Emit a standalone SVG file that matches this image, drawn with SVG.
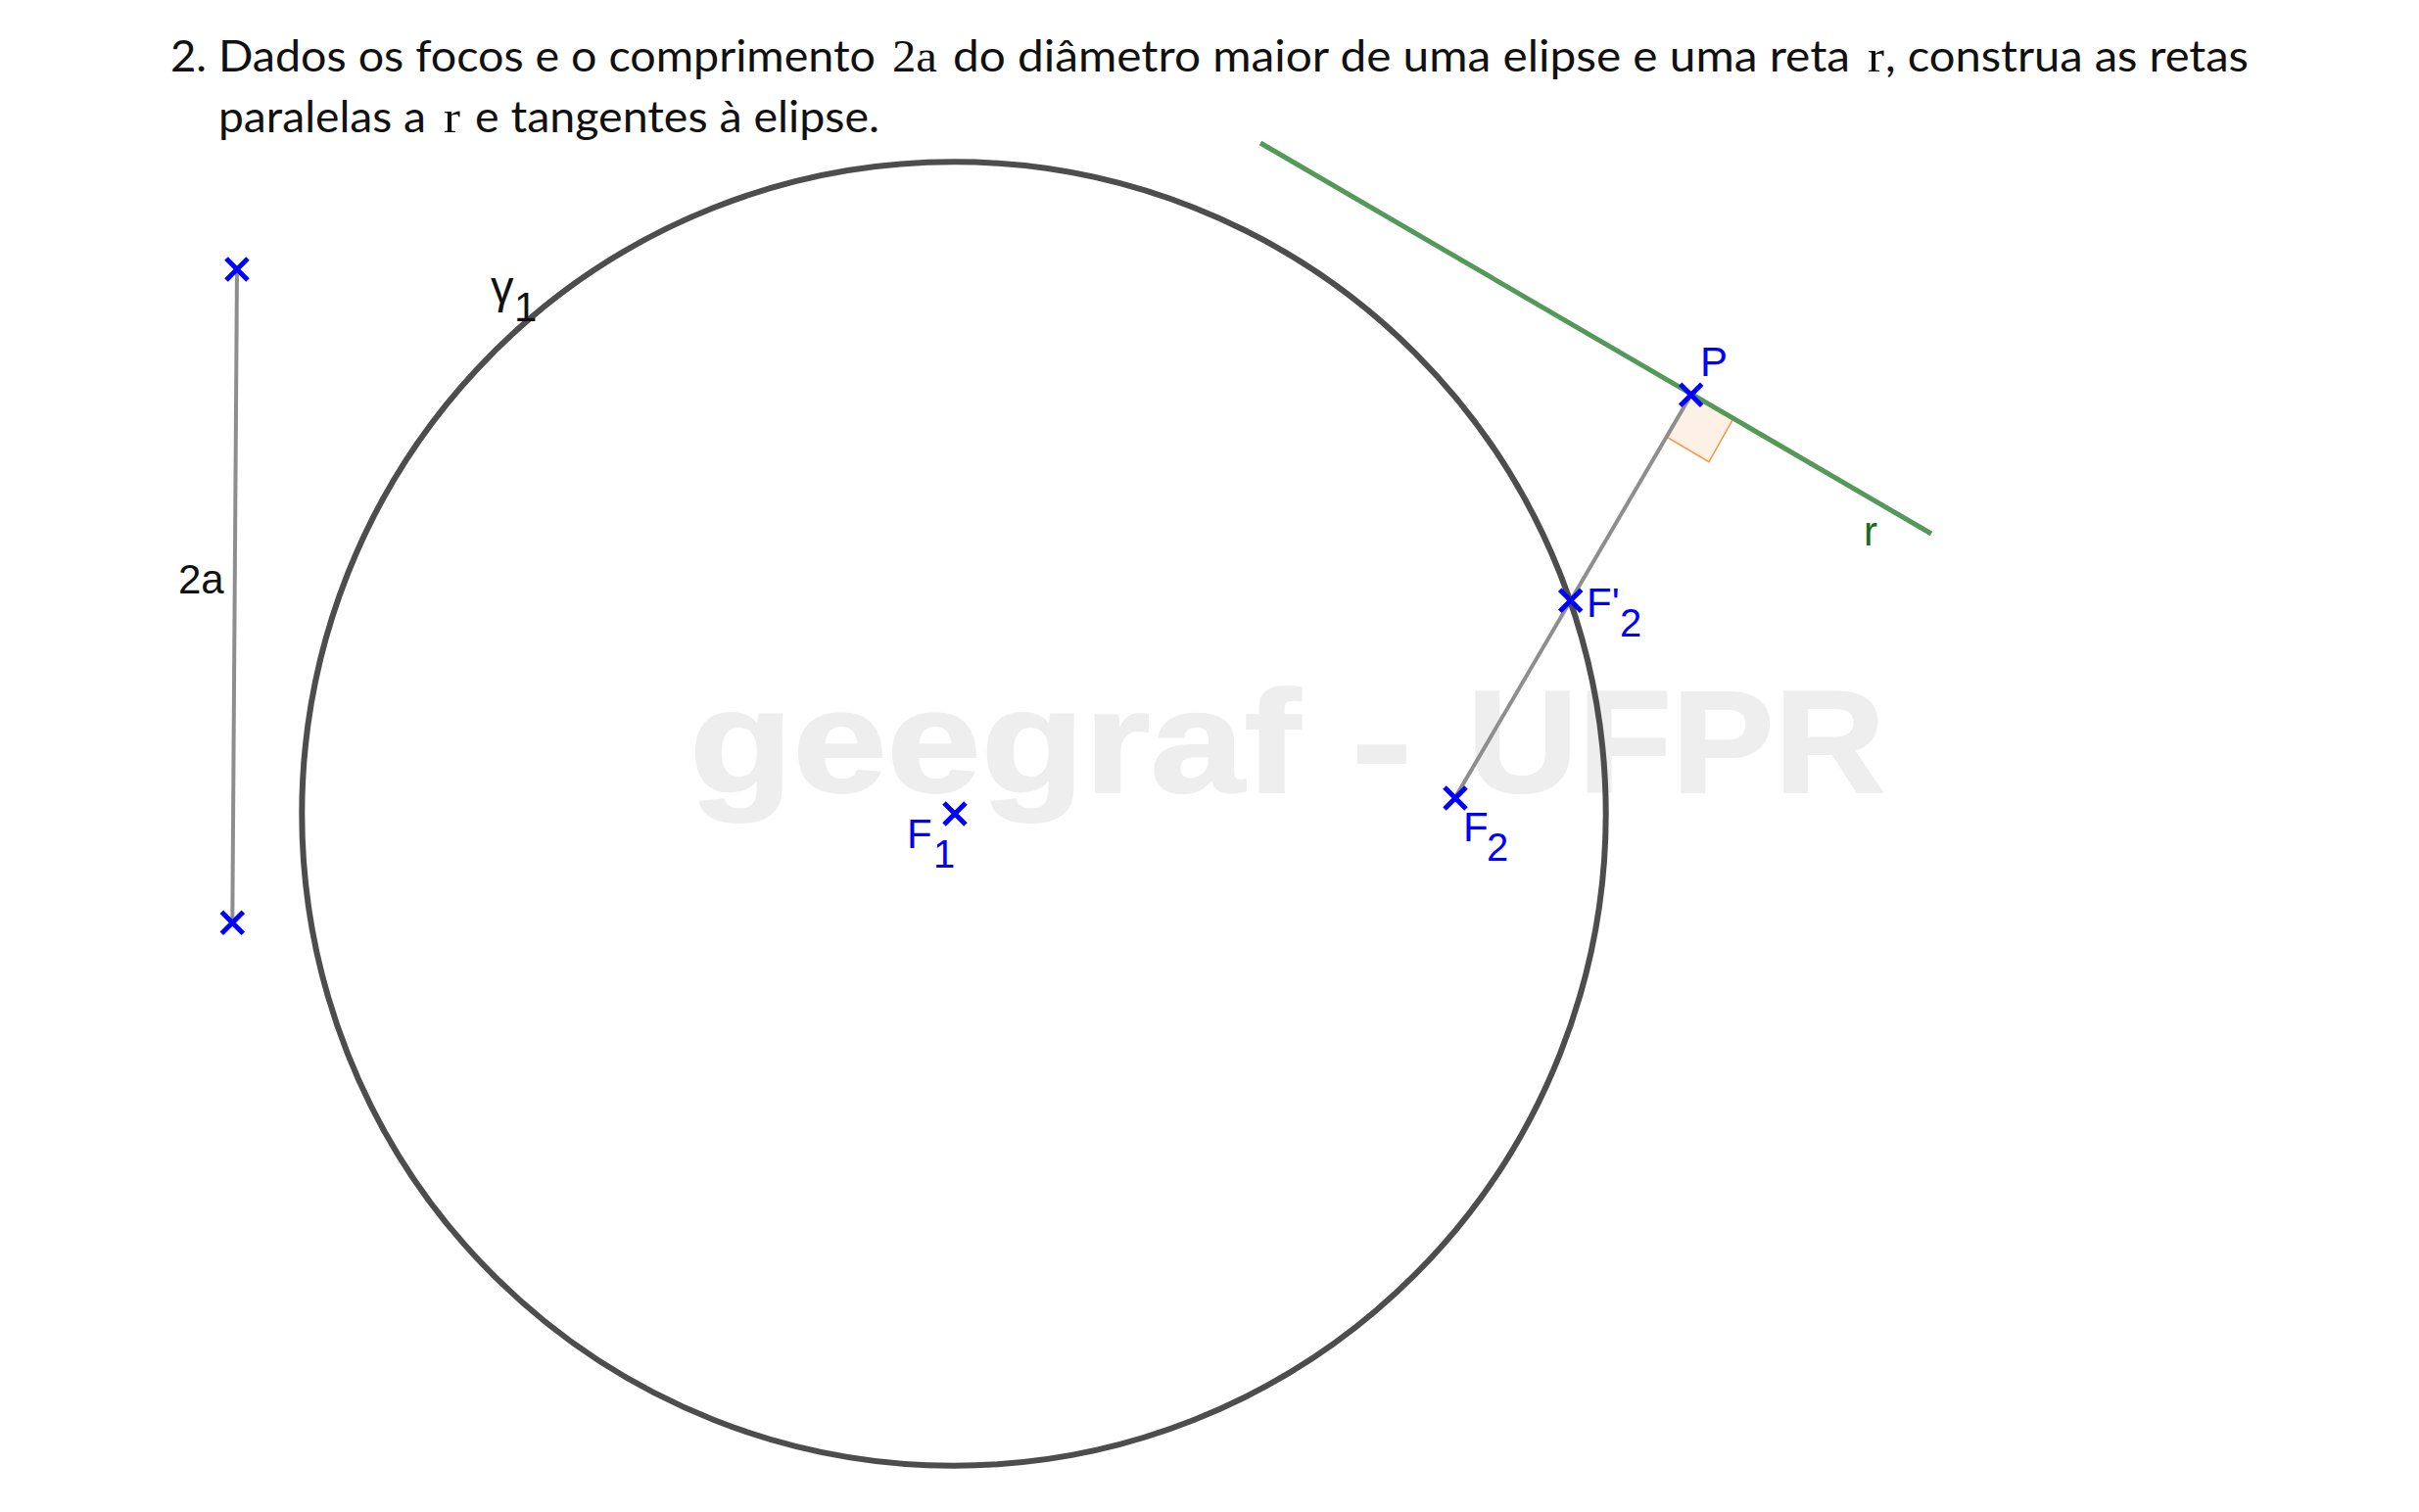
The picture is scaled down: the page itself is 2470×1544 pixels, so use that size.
<svg xmlns="http://www.w3.org/2000/svg" width="2470" height="1544" viewBox="0 0 2470 1544">
<style>
.t{font-family:"Lato","Open Sans",sans-serif;font-size:45px;fill:#111}
.m{font-family:"Liberation Serif",serif;font-size:47px;fill:#111}
.w{font-family:"Liberation Sans",Arial,sans-serif;font-weight:bold;font-size:148px;fill:#eeeeee;stroke:#eeeeee;stroke-width:2}
.b{font-family:"Liberation Sans",Arial,sans-serif;font-size:42px;fill:#0000ff}
.s{font-size:40px}
.k{font-family:"Liberation Sans",Arial,sans-serif;font-size:42px;fill:#111}
.x{stroke:#0000ff;stroke-width:5;fill:none}
.g{stroke:#8e8e8e;stroke-width:4;fill:none}
</style>
<defs><path id="cross" class="x" d="M-11,-11L11,11M-11,11L11,-11"/></defs>
<rect width="2470" height="1544" fill="#fff"/>
<g id="statement">
<text class="t" x="174" y="73" textLength="37" lengthAdjust="spacingAndGlyphs">2.</text>
<text class="t" x="223" y="73" textLength="671" lengthAdjust="spacingAndGlyphs">Dados os focos e o comprimento</text>
<text class="m" x="911" y="73" textLength="46" lengthAdjust="spacingAndGlyphs">2a</text>
<text class="t" x="973" y="73" textLength="916" lengthAdjust="spacingAndGlyphs">do diâmetro maior de uma elipse e uma reta</text>
<text class="m" x="1907" y="73" textLength="17" lengthAdjust="spacingAndGlyphs">r</text>
<text class="t" x="1925" y="73" textLength="371" lengthAdjust="spacingAndGlyphs">, construa as retas</text>
<text class="t" x="223" y="135" textLength="212" lengthAdjust="spacingAndGlyphs">paralelas a</text>
<text class="m" x="453" y="135" textLength="17" lengthAdjust="spacingAndGlyphs">r</text>
<text class="t" x="485" y="135" textLength="413" lengthAdjust="spacingAndGlyphs">e tangentes à elipse.</text>
</g>
<g id="watermark">
<text class="w" x="704" y="809" textLength="624" lengthAdjust="spacingAndGlyphs">geegraf</text>
<text class="w" x="1380" y="809" textLength="62" lengthAdjust="spacingAndGlyphs">-</text>
<text class="w" x="1498" y="809" textLength="427" lengthAdjust="spacingAndGlyphs">UFPR</text>
</g>
<g id="right-angle"><polygon points="1726.7,403.3 1769.3,428.3 1745,471.7 1702.7,446.7" fill="#fdf0e5" stroke="#f79646" stroke-width="1.5"/></g>
<g id="connectors">
<line class="g" x1="242" y1="275" x2="237.3" y2="942.3"/>
<line class="g" x1="1726.7" y1="403.3" x2="1486" y2="814.3"/>
<line id="line-r" x1="1296" y1="148" x2="1981" y2="547" stroke="#54985a" stroke-width="5" transform="translate(-9,-2)"/>
</g>
<g id="gamma1"><circle cx="974" cy="831" r="665.7" fill="none" stroke="#4d4d4d" stroke-width="6"/>
<text x="501" y="309" font-family="'Liberation Sans',Arial,sans-serif" font-size="47" fill="#111">γ</text><text class="k s" x="525" y="328">1</text></g>
<g id="label-r"><text x="1903" y="557" font-family="'Liberation Sans',Arial,sans-serif" font-size="42" fill="#1a6b1a">r</text></g>
<g id="label-2a"><text class="k" x="182" y="606">2a</text></g>
<g id="A"><use href="#cross" x="242" y="275"/></g>
<g id="B"><use href="#cross" x="237.3" y="942.3"/></g>
<g id="F1"><use href="#cross" x="975" y="831"/><text class="b" x="926" y="866">F</text><text class="b s" x="953" y="886">1</text></g>
<g id="F2"><use href="#cross" x="1486" y="815"/><text class="b" x="1494" y="859">F</text><text class="b s" x="1518" y="879">2</text></g>
<g id="Fp2"><use href="#cross" x="1603.7" y="613.3"/><text class="b" x="1620" y="630">F'</text><text class="b s" x="1654" y="650">2</text></g>
<g id="P"><use href="#cross" x="1726.7" y="403.3"/><text class="b" x="1736" y="384">P</text></g>
</svg>
